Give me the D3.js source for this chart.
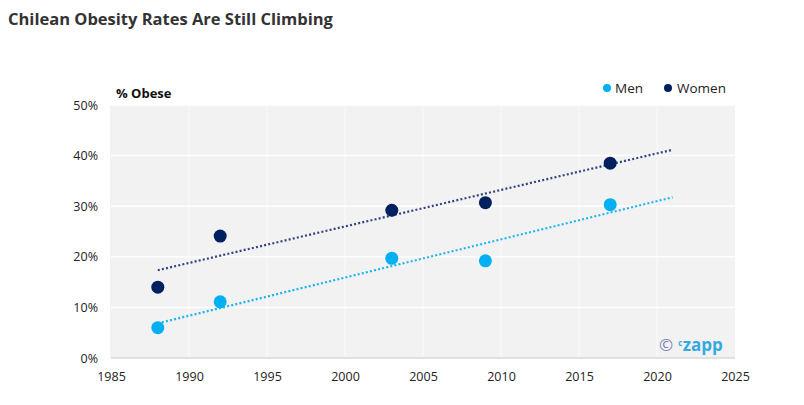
<!DOCTYPE html>
<html>
<head>
<meta charset="utf-8">
<script src="https://cdn.jsdelivr.net/npm/d3@7"></script>
<style>
  body { margin: 0; background: #fff; }
  text { font-family: "Open Sans", "Noto Sans", sans-serif; }
</style>
</head>
<body>
<svg id="chart" width="804" height="405"></svg>
<script>
const years = [1988, 1992, 2003, 2009, 2017]
const men = [6.0, 11.1, 19.7, 19.2, 30.3]
const women = [14.0, 24.1, 29.2, 30.7, 38.5]
const xTicks = [1985, 1990, 1995, 2000, 2005, 2010, 2015, 2020, 2025]
const yTicks = [0, 10, 20, 30, 40, 50]
const trendEnd = 2021

const width = 804
const height = 405
const margin = { top: 105, right: 69, bottom: 47, left: 111 }

const svg = d3.select('#chart')

const xScale = d3.scaleLinear()
    .domain([1985, 2025])
    .range([margin.left, width - margin.right])

const yScale = d3.scaleLinear()
    .domain([0, 50])
    .range([height - margin.bottom, margin.top])

// least squares line, same as the spreadsheet trendline
function fit(xs, ys) {
    const mx = d3.mean(xs)
    const my = d3.mean(ys)
    let sxy = 0
    let sxx = 0
    xs.forEach((x, i) => {
        sxy += (x - mx) * (ys[i] - my)
        sxx += (x - mx) * (x - mx)
    })
    const slope = sxy / sxx
    return x => my + slope * (x - mx)
}

const series = [
    { key: 'Men', values: men, color: '#00b0f0', trendColor: '#1fb4ee' },
    { key: 'Women', values: women, color: '#002060', trendColor: '#34427e' }
]

svg.append('text')
    .attr('x', 8)
    .attr('y', 25)
    .attr('font-size', 16.5)
    .attr('font-weight', 700)
    .attr('fill', '#333')
    .text('Chilean Obesity Rates Are Still Climbing')

// plot background
svg.append('rect')
    .attr('x', xScale(1985) - 1)
    .attr('y', yScale(50))
    .attr('width', xScale(2025) - xScale(1985) + 1)
    .attr('height', yScale(0) - yScale(50))
    .attr('fill', '#f2f2f2')

// grid
svg.append('g')
    .selectAll('line')
    .data(xTicks.slice(1, -1))
    .join('line')
    .attr('x1', d => xScale(d))
    .attr('x2', d => xScale(d))
    .attr('y1', yScale(50))
    .attr('y2', yScale(0))
    .attr('stroke', '#fafafa')
    .attr('stroke-width', 1)

svg.append('g')
    .selectAll('line')
    .data(yTicks.slice(1))
    .join('line')
    .attr('x1', xScale(1985))
    .attr('x2', xScale(2025))
    .attr('y1', d => yScale(d))
    .attr('y2', d => yScale(d))
    .attr('stroke', '#ffffff')
    .attr('stroke-width', 1.5)

svg.append('line')
    .attr('x1', xScale(1985))
    .attr('x2', xScale(2025))
    .attr('y1', yScale(0))
    .attr('y2', yScale(0))
    .attr('stroke', '#d9d9d9')
    .attr('stroke-width', 1.5)

// axes
const xAxis = g =>
    g
        .attr('transform', `translate(0,${yScale(0)})`)
        .call(d3.axisBottom(xScale).tickValues(xTicks).tickFormat(d3.format('d')).tickSize(0).tickPadding(14))
        .call(g => g.select('.domain').remove())
        .call(g => g.selectAll('text').attr('font-size', 12.5).attr('fill', '#222'))

const yAxis = g =>
    g
        .attr('transform', `translate(${xScale(1985)},0)`)
        .call(d3.axisLeft(yScale).tickValues(yTicks).tickFormat(d => d + '%').tickSize(0).tickPadding(13))
        .call(g => g.select('.domain').remove())
        .call(g => g.selectAll('text').attr('font-size', 12.5).attr('fill', '#222'))

svg.append('g').call(xAxis)
svg.append('g').call(yAxis)

svg.append('text')
    .attr('x', 116)
    .attr('y', 98)
    .attr('font-size', 13)
    .attr('font-weight', 700)
    .attr('fill', '#111')
    .text('% Obese')

// trendlines
series.forEach(s => {
    const f = fit(years, s.values)
    svg.append('line')
        .attr('x1', xScale(years[0]))
        .attr('y1', yScale(f(years[0])))
        .attr('x2', xScale(trendEnd))
        .attr('y2', yScale(f(trendEnd)))
        .attr('stroke', s.trendColor)
        .attr('stroke-width', 2.2)
        .attr('stroke-dasharray', '2,2.2')
})

// points
series.forEach(s => {
    svg.append('g')
        .selectAll('circle')
        .data(years.map((y, i) => ({ year: y, v: s.values[i] })))
        .join('circle')
        .attr('cx', d => xScale(d.year))
        .attr('cy', d => yScale(d.v))
        .attr('r', 6.5)
        .attr('fill', s.color)
})

// legend
const legend = svg.append('g')
const legendPos = [{ x: 607, tx: 615 }, { x: 668, tx: 677 }]
series.forEach((s, i) => {
    legend.append('circle')
        .attr('cx', legendPos[i].x)
        .attr('cy', 88)
        .attr('r', 4)
        .attr('fill', s.color)
    legend.append('text')
        .attr('x', legendPos[i].tx)
        .attr('y', 93)
        .attr('font-size', 13.5)
        .attr('fill', '#222')
        .text(s.key)
})

// watermark
const wm = svg.append('text')
    .attr('x', 659)
    .attr('y', 351)
    .attr('font-size', 17)
    .attr('font-weight', 700)
wm.append('tspan').attr('fill', '#7d82b8').attr('font-weight', 400).text('©')
wm.append('tspan').attr('fill', '#36a9e1').attr('font-size', 8).attr('dx', 5).attr('dy', -5).text('c')
wm.append('tspan').attr('fill', '#36a9e1').attr('dy', 5).attr('dx', 0.5).text('zapp')
</script>
</body>
</html>
